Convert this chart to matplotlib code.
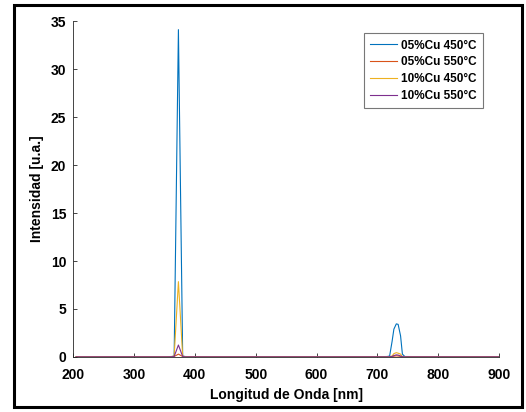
import matplotlib.pyplot as plt
from matplotlib.patches import Rectangle

plt.rcParams["font.family"] = ["Liberation Sans", "DejaVu Sans"]
plt.rcParams["font.weight"] = "bold"

# longitud de onda (nm)
wl = [205, 250, 300, 355, 362, 366, 373, 380, 384, 400, 450, 500, 550, 600,
      650, 700, 716, 720, 724, 727, 731, 734, 738, 741, 745, 800, 850, 900]

cu05_450 = [0.03, 0.02, 0.04, 0.03, 0.05, 0.1, 34.1, 0.1, 0.05, 0.03, 0.02, 0.03, 0.02, 0.03,
            0.02, 0.03, 0.05, 0.1, 1.6, 2.9, 3.45, 3.4, 2.2, 0.3, 0.05, 0.03, 0.02, 0.03]
cu05_550 = [0.02, 0.03, 0.02, 0.02, 0.03, 0.05, 0.3, 0.05, 0.02, 0.03, 0.02, 0.02, 0.03, 0.02,
            0.03, 0.02, 0.02, 0.03, 0.05, 0.08, 0.12, 0.1, 0.06, 0.03, 0.02, 0.02, 0.03, 0.02]
cu10_450 = [0.04, 0.03, 0.03, 0.04, 0.05, 0.1, 7.85, 0.1, 0.04, 0.03, 0.04, 0.03, 0.03, 0.04,
            0.03, 0.03, 0.04, 0.05, 0.1, 0.35, 0.45, 0.4, 0.3, 0.05, 0.03, 0.03, 0.04, 0.03]
cu10_550 = [0.02, 0.02, 0.02, 0.02, 0.03, 0.05, 1.25, 0.05, 0.02, 0.02, 0.02, 0.02, 0.02, 0.02,
            0.02, 0.02, 0.02, 0.03, 0.05, 0.15, 0.22, 0.2, 0.1, 0.03, 0.02, 0.02, 0.02, 0.02]

labels = ["05%Cu 450°C", "05%Cu 550°C", "10%Cu 450°C", "10%Cu 550°C"]
colors = ["#0072BD", "#D95319", "#EDB120", "#7E2F8E"]

fig = plt.figure(figsize=(5.26, 4.12), dpi=100)
ax = fig.add_axes([0.139, 0.1335, 0.810, 0.8155])

for ys, lab, c in zip([cu05_450, cu05_550, cu10_450, cu10_550], labels, colors):
    ax.plot(wl, ys, color=c, lw=0.8, label=lab)

ax.set_xlim(200, 900)
ax.set_ylim(0, 35)
ax.set_xticks(range(200, 901, 100))
ax.set_yticks(range(0, 36, 5))
ax.spines["top"].set_visible(False)
ax.spines["right"].set_visible(False)
for s in ["left", "bottom"]:
    ax.spines[s].set_color("#262626")
    ax.spines[s].set_linewidth(0.6)
ax.tick_params(direction="in", length=3, width=0.6, color="#262626",
               labelsize=10)
ax.tick_params(axis="x", pad=8)
ax.tick_params(axis="y", pad=5)
ax.set_xlabel("Longitud de Onda [nm]", fontsize=10, fontweight="bold", labelpad=4)
ax.set_ylabel("Intensidad [u.a.]", fontsize=10, fontweight="bold", labelpad=5)

leg = ax.legend(loc="upper right", bbox_to_anchor=(0.962, 0.964), borderaxespad=0,
                fontsize=8.5, frameon=True, fancybox=False, handlelength=2.3,
                handletextpad=0.3, borderpad=0.55, labelspacing=0.4)
leg.get_frame().set_edgecolor("#555555")
leg.get_frame().set_linewidth(0.8)

fig.patches.append(Rectangle((0.026, 0.012), 0.966, 0.975, transform=fig.transFigure,
                             fill=False, edgecolor="black", linewidth=2.2))

plt.savefig("out.png", dpi=100)
